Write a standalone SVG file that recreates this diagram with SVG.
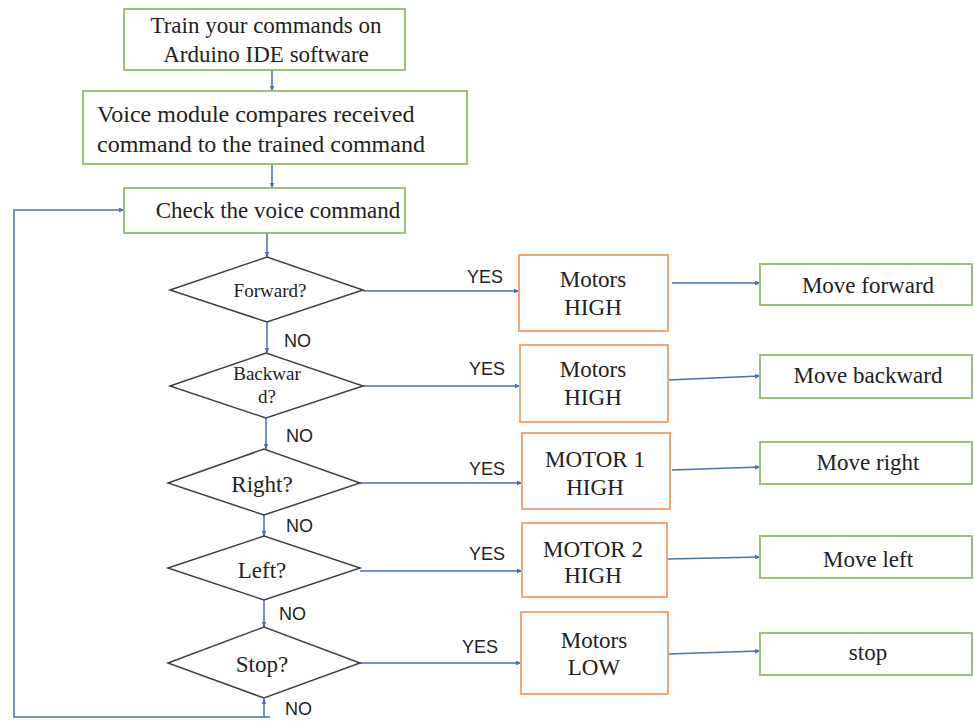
<svg xmlns="http://www.w3.org/2000/svg" width="974" height="721" viewBox="0 0 974 721">
<defs>
<marker id="ah" viewBox="0 0 10 10" refX="9" refY="5" markerWidth="6" markerHeight="6" orient="auto" markerUnits="userSpaceOnUse">
<path d="M0,1 L10,5 L0,9 z" fill="#4a6fb0"/>
</marker>
<style>
.g{fill:#fff;stroke:#9dc07a;stroke-width:2}
.o{fill:#fff;stroke:#f0a878;stroke-width:2}
.d{fill:#fff;stroke:#404040;stroke-width:1.5}
.t{font-family:"Liberation Serif","Times New Roman",serif;font-size:23px;fill:#222;text-anchor:middle}
.s{font-family:"Liberation Sans",Arial,sans-serif;font-size:18px;fill:#222}
.c{fill:none;stroke:#4a6fb0;stroke-width:1.5}
</style>
</defs>
<rect width="974" height="721" fill="#fff"/>
<g id="connectors">
<line class="c" x1="272" y1="70" x2="272" y2="91" marker-end="url(#ah)"/>
<line class="c" x1="272" y1="164" x2="272" y2="188" marker-end="url(#ah)"/>
<line class="c" x1="267" y1="233" x2="267" y2="257" marker-end="url(#ah)"/>
<line class="c" x1="267" y1="322" x2="267" y2="353" marker-end="url(#ah)"/>
<line class="c" x1="266" y1="418" x2="266" y2="449" marker-end="url(#ah)"/>
<line class="c" x1="264" y1="515" x2="264" y2="536" marker-end="url(#ah)"/>
<line class="c" x1="264" y1="600" x2="264" y2="627" marker-end="url(#ah)"/>
<line class="c" x1="264" y1="717" x2="264" y2="699" marker-end="url(#ah)"/>
<polyline class="c" points="270,717 14,717 14,210 124,210" marker-end="url(#ah)"/>
<line class="c" x1="363" y1="291" x2="519" y2="291" marker-end="url(#ah)"/>
<line class="c" x1="363" y1="386" x2="520" y2="386" marker-end="url(#ah)"/>
<line class="c" x1="360" y1="483" x2="522" y2="483" marker-end="url(#ah)"/>
<line class="c" x1="360" y1="571" x2="522" y2="571" marker-end="url(#ah)"/>
<line class="c" x1="360" y1="663" x2="521" y2="663" marker-end="url(#ah)"/>
<line class="c" x1="672" y1="283" x2="760" y2="283" marker-end="url(#ah)"/>
<line class="c" x1="668" y1="380" x2="760" y2="376" marker-end="url(#ah)"/>
<line class="c" x1="672" y1="470" x2="760" y2="467" marker-end="url(#ah)"/>
<line class="c" x1="668" y1="559" x2="760" y2="557" marker-end="url(#ah)"/>
<line class="c" x1="668" y1="654" x2="760" y2="651" marker-end="url(#ah)"/>
</g>
<g id="labels">
<text class="s" x="467" y="283">YES</text>
<text class="s" x="469" y="375">YES</text>
<text class="s" x="469" y="475">YES</text>
<text class="s" x="469" y="560">YES</text>
<text class="s" x="462" y="653">YES</text>
<text class="s" x="284" y="347">NO</text>
<text class="s" x="286" y="442">NO</text>
<text class="s" x="286" y="532">NO</text>
<text class="s" x="279" y="620">NO</text>
<text class="s" x="285" y="715">NO</text>
</g>
<g id="n-train"><rect class="g" x="124" y="9" width="281" height="61"/><text class="t" x="266" y="33">Train your commands on</text><text class="t" x="266" y="62">Arduino IDE software</text></g>
<g id="n-compare"><rect class="g" x="83" y="91" width="384" height="73"/><text class="t" x="97" y="122" style="text-anchor:start;font-size:24px">Voice module compares received</text><text class="t" x="97" y="152" style="text-anchor:start;font-size:24px">command to the trained command</text></g>
<g id="n-check"><rect class="g" x="124" y="188" width="281" height="45"/><text class="t" x="278" y="218">Check the voice command</text></g>
<g id="d-forward"><polygon class="d" points="170,290 267,257 363,290 267,322"/><text class="t" x="270" y="297" style="font-size:19px">Forward?</text></g>
<g id="d-backward"><polygon class="d" points="170,386 266,353 363,386 266,418"/><text class="t" x="267" y="380" style="font-size:19px">Backwar</text><text class="t" x="267" y="403" style="font-size:19px">d?</text></g>
<g id="d-right"><polygon class="d" points="168,483 264,449 360,483 264,515"/><text class="t" x="262" y="492">Right?</text></g>
<g id="d-left"><polygon class="d" points="168,568 264,536 360,568 264,600"/><text class="t" x="262" y="578">Left?</text></g>
<g id="d-stop"><polygon class="d" points="168,663 264,627 360,663 264,698"/><text class="t" x="262" y="672">Stop?</text></g>
<g id="n-m1"><rect class="o" x="519" y="255" width="149" height="76"/><text class="t" x="593" y="287">Motors</text><text class="t" x="593" y="315">HIGH</text></g>
<g id="n-m2"><rect class="o" x="520" y="345" width="148" height="77"/><text class="t" x="593" y="377">Motors</text><text class="t" x="593" y="405">HIGH</text></g>
<g id="n-m3"><rect class="o" x="522" y="433" width="148" height="76"/><text class="t" x="595" y="467">MOTOR 1</text><text class="t" x="595" y="495">HIGH</text></g>
<g id="n-m4"><rect class="o" x="522" y="523" width="145" height="74"/><text class="t" x="593" y="557">MOTOR 2</text><text class="t" x="593" y="583">HIGH</text></g>
<g id="n-m5"><rect class="o" x="521" y="612" width="147" height="82"/><text class="t" x="594" y="648">Motors</text><text class="t" x="594" y="675">LOW</text></g>
<g id="n-fwd"><rect class="g" x="760" y="264" width="212" height="41"/><text class="t" x="868" y="293">Move forward</text></g>
<g id="n-bwd"><rect class="g" x="760" y="355" width="212" height="43"/><text class="t" x="868" y="383">Move backward</text></g>
<g id="n-right"><rect class="g" x="760" y="442" width="212" height="42"/><text class="t" x="868" y="470">Move right</text></g>
<g id="n-left"><rect class="g" x="760" y="536" width="212" height="42"/><text class="t" x="868" y="567">Move left</text></g>
<g id="n-stop"><rect class="g" x="760" y="633" width="212" height="42"/><text class="t" x="868" y="660">stop</text></g>
</svg>
